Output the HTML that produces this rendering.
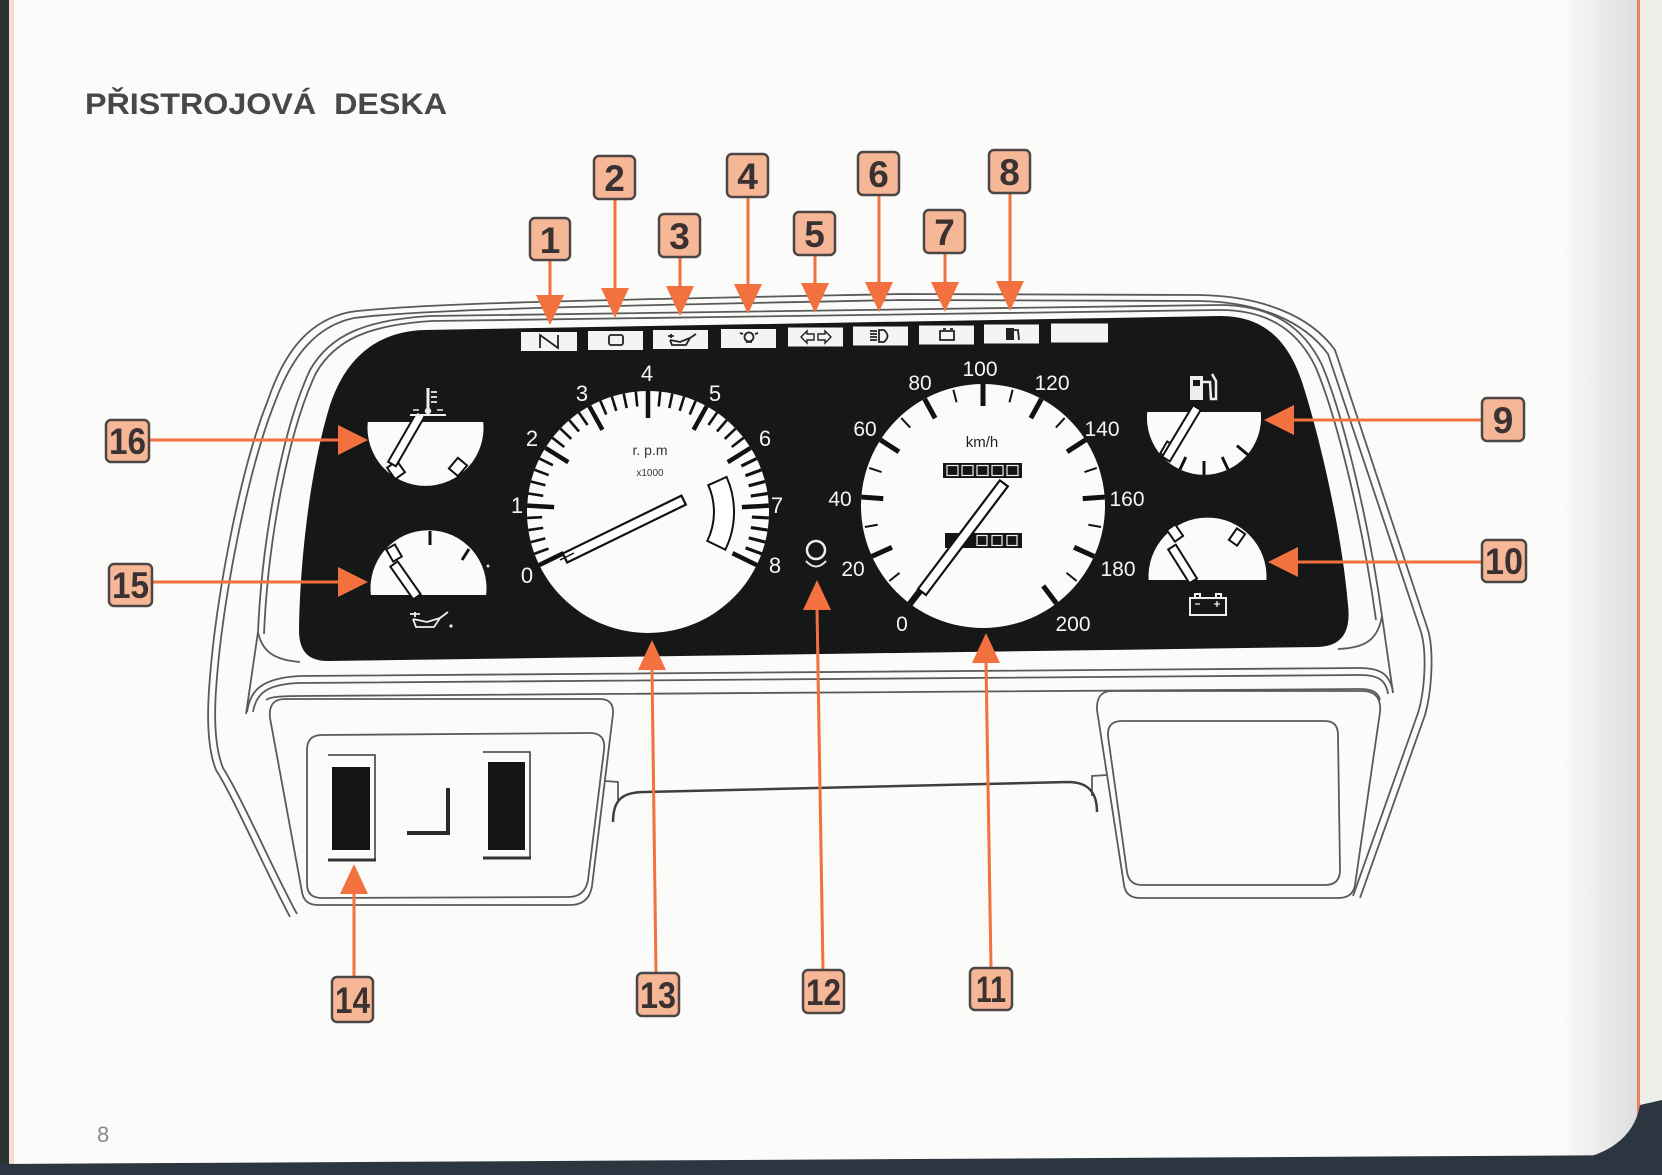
<!DOCTYPE html>
<html><head><meta charset="utf-8">
<style>
html,body{margin:0;padding:0;background:#fbfbf9;}
svg{display:block;}
</style></head><body>
<svg width="1662" height="1175" viewBox="0 0 1662 1175" xmlns="http://www.w3.org/2000/svg" font-family="'Liberation Sans', 'DejaVu Sans', sans-serif">
<defs>
<linearGradient id="shade" x1="0" x2="1" y1="0" y2="0">
<stop offset="0" stop-color="#fbfbf9"/>
<stop offset="1" stop-color="#dcdde0"/>
</linearGradient>
</defs>
<!-- page -->
<rect width="1662" height="1175" fill="#fbfbf9"/>
<rect x="1560" y="0" width="78" height="1175" fill="url(#shade)"/>
<rect x="1640" y="0" width="22" height="1175" fill="#ededea"/>
<line x1="1638.5" y1="0" x2="1638.5" y2="1140" stroke="#e9825f" stroke-width="3"/>
<rect x="0" y="0" width="9" height="1175" fill="#2b3232"/>
<rect x="9" y="0" width="5" height="1175" fill="#f3dccd"/>
<path d="M1662 1100 L1640 1105 Q1632 1150 1572 1161 L1662 1175 Z" fill="#2c3640"/>
<polygon points="0,1164 1662,1155 1662,1175 0,1175" fill="#2c3640"/>

<!-- title -->
<text x="85" y="114" font-size="30" font-weight="bold" fill="#48484c" textLength="362" lengthAdjust="spacingAndGlyphs">PŘISTROJOVÁ&#160; DESKA</text>
<text x="97" y="1142" font-size="22" fill="#8a8a8a">8</text>

<!-- bezel outlines -->
<g fill="none" stroke="#5a5a5a" stroke-width="1.8">
<path d="M290 917 C265 870,235 800,216 770 C208 750,207 720,209 690 C215 600,240 470,268 400 C285 350,310 320,350 312 C420 303,600 300,900 294 L1200 295 C1260 296,1310 315,1335 350 L1428 630 C1434 650,1432 690,1425 715 L1360 898"/>
<path d="M297 914 C272 868,243 800,223 768 C215 748,214 720,216 690 C222 602,247 472,275 402 C292 356,316 326,354 318 C424 309,600 306,900 300 L1200 301 C1257 302,1303 320,1328 354 L1421 632 C1427 652,1425 690,1418 713 L1353 896"/>
<path d="M258 632 C262 540,282 430,310 370 C330 335,365 320,430 316 L1220 305 C1275 305,1305 330,1322 365 C1345 420,1370 530,1382 616"/>
<path d="M264 634 C268 540,288 432,316 373 C335 340,368 325,432 321 L1220 310 C1272 310,1300 334,1316 368 C1339 423,1364 532,1376 620"/>
<!-- fins -->
<path d="M258 632 L246 714"/>
<path d="M258 632 C262 652,275 660,300 662"/>
<path d="M1382 616 L1393 693"/>
<path d="M1382 616 C1378 640,1365 648,1338 649"/>
<!-- band under panel -->
<path d="M247 712 C250 690,262 678,300 676 L1360 668 C1380 668,1390 674,1393 692"/>
<path d="M253 712 C256 694,266 684,300 683 L1360 675 C1378 675,1386 680,1388 694"/>
<path d="M266 700 C270 697,280 696,300 696 L1360 689 C1372 689,1378 692,1380 700"/>
<!-- left console -->
<path d="M285 699 L600 699 Q614 699 613 714 L592 886 Q589 905 570 905 L318 905 Q304 905 302 892 L270 718 Q268 699 285 699 Z"/>
<path d="M322 735 L590 733 Q606 733 604 750 L588 880 Q585 897 568 897 L322 898 Q307 898 307 884 L307 750 Q307 735 322 735 Z"/>
<!-- right console -->
<path d="M1112 691 L1362 691 Q1382 691 1380 712 L1355 885 Q1353 898 1338 898 L1140 898 Q1126 898 1124 885 L1097 710 Q1096 691 1112 691 Z"/>
<path d="M1122 721 L1325 721 Q1338 721 1338 735 L1340 870 Q1340 885 1325 885 L1142 885 Q1129 885 1127 872 L1108 736 Q1107 721 1122 721 Z"/>
<!-- tabs -->
<path d="M605 781 L618 782 L618 800"/>
<path d="M1107 775 L1092 776 L1092 796"/>
</g>
<!-- center line -->
<path d="M613 822 C613 800,622 792,645 792 L1068 782 C1088 782,1097 792,1097 812" fill="none" stroke="#3e3e3e" stroke-width="2.5"/>

<!-- switches -->
<g>
<path d="M328 755 L375 755 L375 860" fill="none" stroke="#555" stroke-width="1.8"/>
<line x1="328" y1="860" x2="376" y2="860" stroke="#333" stroke-width="3"/>
<rect x="332" y="767" width="38" height="83" fill="#151515"/>
<path d="M483 752 L530 752 L530 858" fill="none" stroke="#555" stroke-width="1.8"/>
<line x1="483" y1="858" x2="531" y2="858" stroke="#333" stroke-width="3"/>
<rect x="488" y="762" width="37" height="88" fill="#151515"/>
<path d="M448 788 L448 833 L407 833" fill="none" stroke="#2a2a2a" stroke-width="4"/>
</g>

<!-- black panel -->
<path d="M425 330 L1220 316 C1262 316,1288 338,1303 385 C1322 445,1342 535,1348 605 C1351 632,1342 646,1318 647 L328 661 C307 661,299 650,299 630 C300 560,310 470,330 405 C346 357,378 331,425 330 Z" fill="#161717"/>

<!-- warning light strip -->
<g fill="#f4f4f2">
<rect x="521" y="332" width="56" height="19"/>
<rect x="588" y="331" width="55" height="19"/>
<rect x="653" y="330" width="55" height="19"/>
<rect x="721" y="329" width="55" height="19"/>
<rect x="788" y="327.5" width="55" height="19"/>
<rect x="853" y="326.5" width="55" height="19"/>
<rect x="919" y="325.5" width="55" height="19"/>
<rect x="984" y="324.5" width="55" height="19"/>
<rect x="1051" y="323.5" width="57" height="19"/>
</g>
<g fill="none" stroke="#222" stroke-width="1.8">
<path d="M540 348 L540 335 L558 348 L558 335"/>
<rect x="609" y="335" width="14" height="10" rx="2"/>
<path d="M668 336 L674 336 M671 334 L671 338 M670 340 L680 342 L690 338 L696 334 M670 340 L672 345 L686 345 L690 338"/>
<circle cx="749" cy="337" r="4.5"/>
<path d="M746 342 L752 342 M740 333 L743 334 M758 333 L755 334"/>
<path d="M801 337 L807 331 L807 334 L814 334 L814 340 L807 340 L807 343 Z M831 337 L825 331 L825 334 L818 334 L818 340 L825 340 L825 343 Z" stroke-width="1.4"/>
<path d="M870 331 L877 331 M870 334 L877 334 M870 337 L877 337 M870 340 L877 340 M879 330 L884 330 Q891 336 884 342 L879 342 Z"/>
<path d="M940 331 L954 331 L954 340 L940 340 Z M943 329 L946 329 M950 329 L953 329"/>
<path d="M1014 330 L1018 330 L1019 340" />
</g>
<rect x="1006" y="328" width="8" height="12" fill="#222"/>

<!-- tachometer -->
<circle cx="648" cy="512" r="121" fill="#fbfbfa"/>
<g transform="translate(648 512)" stroke="#111">
<g stroke-width="2.6">
<line x1="0" y1="-121" x2="0" y2="-106" transform="rotate(-110.2)"/>
<line x1="0" y1="-121" x2="0" y2="-106" transform="rotate(-104.4)"/>
<line x1="0" y1="-121" x2="0" y2="-106" transform="rotate(-98.6)"/>
<line x1="0" y1="-121" x2="0" y2="-106" transform="rotate(-92.8)"/>
<line x1="0" y1="-121" x2="0" y2="-106" transform="rotate(-81.2)"/>
<line x1="0" y1="-121" x2="0" y2="-106" transform="rotate(-75.4)"/>
<line x1="0" y1="-121" x2="0" y2="-106" transform="rotate(-69.6)"/>
<line x1="0" y1="-121" x2="0" y2="-106" transform="rotate(-63.8)"/>
<line x1="0" y1="-121" x2="0" y2="-106" transform="rotate(-52.2)"/>
<line x1="0" y1="-121" x2="0" y2="-106" transform="rotate(-46.4)"/>
<line x1="0" y1="-121" x2="0" y2="-106" transform="rotate(-40.6)"/>
<line x1="0" y1="-121" x2="0" y2="-106" transform="rotate(-34.8)"/>
<line x1="0" y1="-121" x2="0" y2="-106" transform="rotate(-23.2)"/>
<line x1="0" y1="-121" x2="0" y2="-106" transform="rotate(-17.4)"/>
<line x1="0" y1="-121" x2="0" y2="-106" transform="rotate(-11.6)"/>
<line x1="0" y1="-121" x2="0" y2="-106" transform="rotate(-5.8)"/>
<line x1="0" y1="-121" x2="0" y2="-106" transform="rotate(5.8)"/>
<line x1="0" y1="-121" x2="0" y2="-106" transform="rotate(11.6)"/>
<line x1="0" y1="-121" x2="0" y2="-106" transform="rotate(17.4)"/>
<line x1="0" y1="-121" x2="0" y2="-106" transform="rotate(23.2)"/>
<line x1="0" y1="-121" x2="0" y2="-106" transform="rotate(34.8)"/>
<line x1="0" y1="-121" x2="0" y2="-106" transform="rotate(40.6)"/>
<line x1="0" y1="-121" x2="0" y2="-106" transform="rotate(46.4)"/>
<line x1="0" y1="-121" x2="0" y2="-106" transform="rotate(52.2)"/>
<line x1="0" y1="-121" x2="0" y2="-104" stroke-width="3.2" transform="rotate(63.8)"/>
<line x1="0" y1="-121" x2="0" y2="-104" stroke-width="3.2" transform="rotate(69.6)"/>
<line x1="0" y1="-121" x2="0" y2="-104" stroke-width="3.2" transform="rotate(75.4)"/>
<line x1="0" y1="-121" x2="0" y2="-104" stroke-width="3.2" transform="rotate(81.2)"/>
<line x1="0" y1="-121" x2="0" y2="-104" stroke-width="3.2" transform="rotate(92.8)"/>
<line x1="0" y1="-121" x2="0" y2="-104" stroke-width="3.2" transform="rotate(98.6)"/>
<line x1="0" y1="-121" x2="0" y2="-104" stroke-width="3.2" transform="rotate(104.4)"/>
<line x1="0" y1="-121" x2="0" y2="-104" stroke-width="3.2" transform="rotate(110.2)"/>
</g>
<g stroke-width="4.5">
<line x1="0" y1="-121" x2="0" y2="-94" transform="rotate(-116)"/>
<line x1="0" y1="-121" x2="0" y2="-94" transform="rotate(-87)"/>
<line x1="0" y1="-121" x2="0" y2="-94" transform="rotate(-58)"/>
<line x1="0" y1="-121" x2="0" y2="-94" transform="rotate(-29)"/>
<line x1="0" y1="-121" x2="0" y2="-94" transform="rotate(0)"/>
<line x1="0" y1="-121" x2="0" y2="-94" transform="rotate(29)"/>
<line x1="0" y1="-121" x2="0" y2="-94" transform="rotate(58)"/>
<line x1="0" y1="-121" x2="0" y2="-94" transform="rotate(87)"/>
<line x1="0" y1="-121" x2="0" y2="-94" transform="rotate(116)"/>
</g>
</g>
<path d="M708.3 485.2 L726.6 477 A86 86 0 0 1 725.3 549.7 L707.3 540.9 A66 66 0 0 0 708.3 485.2 Z" fill="#fff" stroke="#111" stroke-width="2"/>
<text x="650" y="455" font-size="14" fill="#333" text-anchor="middle">r. p.m</text>
<text x="650" y="476" font-size="10" fill="#333" text-anchor="middle">x1000</text>
<rect x="0" y="-5" width="132" height="10" fill="#fff" stroke="#111" stroke-width="2.2" transform="translate(565 558) rotate(-26)"/>
<line x1="560" y1="560" x2="574" y2="553" stroke="#111" stroke-width="1.5"/>
<g fill="#f4f4f4" font-size="22" text-anchor="middle">
<text x="527" y="583">0</text>
<text x="517" y="513">1</text>
<text x="532" y="446">2</text>
<text x="582" y="401">3</text>
<text x="647" y="381">4</text>
<text x="715" y="401">5</text>
<text x="765" y="446">6</text>
<text x="777" y="513">7</text>
<text x="775" y="573">8</text>
</g>

<!-- speedometer -->
<circle cx="983" cy="506" r="122" fill="#fbfbfa"/>
<g transform="translate(983 506)" stroke="#111">
<g stroke-width="2">
<line x1="0" y1="-120" x2="0" y2="-107" transform="rotate(-128.7)"/>
<line x1="0" y1="-120" x2="0" y2="-107" transform="rotate(-100.1)"/>
<line x1="0" y1="-120" x2="0" y2="-107" transform="rotate(-71.5)"/>
<line x1="0" y1="-120" x2="0" y2="-107" transform="rotate(-42.9)"/>
<line x1="0" y1="-120" x2="0" y2="-107" transform="rotate(-14.3)"/>
<line x1="0" y1="-120" x2="0" y2="-107" transform="rotate(14.3)"/>
<line x1="0" y1="-120" x2="0" y2="-107" transform="rotate(42.9)"/>
<line x1="0" y1="-120" x2="0" y2="-107" transform="rotate(71.5)"/>
<line x1="0" y1="-120" x2="0" y2="-107" transform="rotate(100.1)"/>
<line x1="0" y1="-120" x2="0" y2="-107" transform="rotate(128.7)"/>
</g>
<g stroke-width="5">
<line x1="0" y1="-122" x2="0" y2="-100" transform="rotate(-143)"/>
<line x1="0" y1="-122" x2="0" y2="-100" transform="rotate(-114.4)"/>
<line x1="0" y1="-122" x2="0" y2="-100" transform="rotate(-85.8)"/>
<line x1="0" y1="-122" x2="0" y2="-100" transform="rotate(-57.2)"/>
<line x1="0" y1="-122" x2="0" y2="-100" transform="rotate(-28.6)"/>
<line x1="0" y1="-122" x2="0" y2="-100" transform="rotate(0)"/>
<line x1="0" y1="-122" x2="0" y2="-100" transform="rotate(28.6)"/>
<line x1="0" y1="-122" x2="0" y2="-100" transform="rotate(57.2)"/>
<line x1="0" y1="-122" x2="0" y2="-100" transform="rotate(85.8)"/>
<line x1="0" y1="-122" x2="0" y2="-100" transform="rotate(114.4)"/>
<line x1="0" y1="-122" x2="0" y2="-100" transform="rotate(143)"/>
</g>
</g>
<text x="982" y="447" font-size="15" fill="#222" text-anchor="middle">km/h</text>
<rect x="943" y="463" width="79" height="15" fill="#141414"/>
<g fill="none" stroke="#eee" stroke-width="1.2">
<rect x="947" y="465.5" width="11" height="10"/>
<rect x="962" y="465.5" width="11" height="10"/>
<rect x="977" y="465.5" width="11" height="10"/>
<rect x="992" y="465.5" width="11" height="10"/>
<rect x="1007" y="465.5" width="11" height="10"/>
</g>
<rect x="945" y="533" width="77" height="15" fill="#141414"/>
<g fill="none" stroke="#eee" stroke-width="1.2">
<rect x="977" y="535.5" width="10" height="10"/>
<rect x="992" y="535.5" width="10" height="10"/>
<rect x="1007" y="535.5" width="10" height="10"/>
</g>
<line x1="922" y1="592" x2="911" y2="606" stroke="#111" stroke-width="2"/>
<rect x="0" y="-5" width="136" height="10" fill="#fff" stroke="#111" stroke-width="2.2" transform="translate(922 592) rotate(-53)"/>
<g fill="#f4f4f4" font-size="21" text-anchor="middle">
<text x="902" y="631">0</text>
<text x="853" y="576">20</text>
<text x="840" y="506">40</text>
<text x="865" y="436">60</text>
<text x="920" y="390">80</text>
<text x="980" y="376">100</text>
<text x="1052" y="390">120</text>
<text x="1102" y="436">140</text>
<text x="1127" y="506">160</text>
<text x="1118" y="576">180</text>
<text x="1073" y="631">200</text>
</g>

<!-- lamp 12 -->
<circle cx="816" cy="550" r="9" fill="none" stroke="#eee" stroke-width="2.5"/>
<path d="M806 561 Q816 572 826 561" fill="none" stroke="#eee" stroke-width="2"/>

<!-- temperature gauge -->
<path d="M367.8 422 L483.2 422 A58 58 0 1 1 367.8 422 Z" fill="#fbfbfa"/>
<rect x="-6" y="-7" width="12" height="14" fill="#fff" stroke="#111" stroke-width="2" transform="translate(458 467) rotate(40)"/>
<rect x="-6" y="-7" width="12" height="14" fill="#fff" stroke="#111" stroke-width="2" transform="translate(396 470) rotate(-35)"/>
<rect x="0" y="-4.5" width="58" height="9" fill="#fff" stroke="#111" stroke-width="2" transform="translate(392 464) rotate(-60)"/>
<g stroke="#eee" fill="none">
<line x1="428" y1="388" x2="428" y2="409" stroke-width="3"/>
<path d="M431 392 L437 392 M431 397 L437 397 M431 402 L437 402" stroke-width="1.8"/>
<line x1="410" y1="415" x2="446" y2="415" stroke-width="2"/>
<path d="M413 410 L419 410 M437 410 L443 410" stroke-width="1.6"/>
</g>
<circle cx="428" cy="411" r="3.2" fill="#eee"/>

<!-- oil gauge -->
<path d="M370.9 595 A58 58 0 1 1 486.1 595 Z" fill="#fbfbfa"/>
<line x1="430" y1="531" x2="430" y2="545" stroke="#111" stroke-width="3"/>
<line x1="469" y1="549" x2="462" y2="560" stroke="#111" stroke-width="3"/>
<circle cx="488" cy="566" r="1.5" fill="#ddd"/>
<rect x="-5" y="-7" width="10" height="14" fill="#fff" stroke="#111" stroke-width="2" transform="translate(394 553) rotate(-30)"/>
<rect x="0" y="-4.5" width="40" height="9" fill="#fff" stroke="#111" stroke-width="2" transform="translate(394 564) rotate(55)"/>
<path d="M410 614 L420 614 M415 612 L415 617 M413 619 L427 622 L440 618 L448 612 M413 619 L416 627 L434 627 L440 618" fill="none" stroke="#eee" stroke-width="1.8"/>
<circle cx="451" cy="626" r="1.6" fill="#eee"/>

<!-- fuel gauge -->
<path d="M1147.3 412 L1260.7 412 A57 57 0 1 1 1147.3 412 Z" fill="#fbfbfa"/>
<g transform="translate(1204 418)" stroke="#111" stroke-width="3">
<line x1="0" y1="43" x2="0" y2="57" transform="rotate(25)"/>
<line x1="0" y1="43" x2="0" y2="57"/>
<line x1="0" y1="43" x2="0" y2="57" transform="rotate(-25)"/>
<line x1="0" y1="43" x2="0" y2="57" transform="rotate(-50)"/>
</g>
<rect x="-5" y="-7" width="10" height="14" fill="#fff" stroke="#111" stroke-width="2" transform="translate(1168 450) rotate(30)"/>
<rect x="0" y="-4.5" width="60" height="9" fill="#fff" stroke="#111" stroke-width="2" transform="translate(1166 459) rotate(-59)"/>
<rect x="1190" y="376" width="13" height="24" fill="#eee"/>
<rect x="1193" y="380" width="7" height="6" fill="#161717"/>
<path d="M1203 382 L1210 382 L1211 399 L1216 399 L1216 381 L1212 374" fill="none" stroke="#eee" stroke-width="2.5"/>

<!-- battery gauge -->
<path d="M1148.6 580 A59 59 0 1 1 1266.4 580 Z" fill="#fbfbfa"/>
<rect x="-5" y="-7" width="10" height="14" fill="#fff" stroke="#111" stroke-width="2" transform="translate(1175 533) rotate(-35)"/>
<rect x="-5" y="-7" width="10" height="14" fill="#fff" stroke="#111" stroke-width="2" transform="translate(1237 537) rotate(35)"/>
<rect x="0" y="-4.5" width="40" height="9" fill="#fff" stroke="#111" stroke-width="2" transform="translate(1172 547) rotate(58)"/>
<g fill="none" stroke="#eee" stroke-width="2">
<rect x="1190" y="598" width="36" height="17"/>
<rect x="1195" y="594" width="5" height="4"/>
<rect x="1216" y="594" width="5" height="4"/>
<path d="M1195 604 L1200 604 M1214 604 L1220 604 M1217 601 L1217 607" stroke-width="1.3"/>
</g>

<!-- arrows -->
<g stroke="#f2713f" stroke-width="3" fill="none">
<line x1="550" y1="260" x2="550" y2="296"/>
<line x1="615" y1="199" x2="615" y2="290"/>
<line x1="680" y1="257" x2="680" y2="288"/>
<line x1="748" y1="197" x2="748" y2="286"/>
<line x1="815" y1="255" x2="815" y2="285"/>
<line x1="879" y1="195" x2="879" y2="284"/>
<line x1="945" y1="253" x2="945" y2="284"/>
<line x1="1010" y1="193" x2="1010" y2="283"/>
<line x1="149" y1="440" x2="340" y2="440"/>
<line x1="152" y1="582" x2="340" y2="582"/>
<line x1="1482" y1="420" x2="1292" y2="420"/>
<line x1="1482" y1="562" x2="1296" y2="562"/>
<line x1="354" y1="977" x2="354" y2="892"/>
<line x1="656" y1="973" x2="652" y2="668"/>
<line x1="823" y1="970" x2="817" y2="608"/>
<line x1="991" y1="968" x2="986" y2="661"/>
</g>
<g fill="#f2713f">
<polygon points="536,295 564,295 550,325"/>
<polygon points="601,288 629,288 615,318"/>
<polygon points="666,286 694,286 680,316"/>
<polygon points="734,284 762,284 748,314"/>
<polygon points="801,283 829,283 815,313"/>
<polygon points="865,282 893,282 879,312"/>
<polygon points="931,282 959,282 945,312"/>
<polygon points="996,281 1024,281 1010,311"/>
<polygon points="338,425 338,455 368,440"/>
<polygon points="338,567 338,597 368,582"/>
<polygon points="1294,405 1294,435 1264,420"/>
<polygon points="1298,547 1298,577 1268,562"/>
<polygon points="340,894 368,894 354,864"/>
<polygon points="638,670 666,670 652,640"/>
<polygon points="803,610 831,610 817,580"/>
<polygon points="972,663 1000,663 986,633"/>
</g>

<!-- number boxes -->
<g fill="#f6b797" stroke="#4d4646" stroke-width="2.5">
<rect x="530" y="218" width="40" height="42" rx="5"/>
<rect x="594" y="156" width="41" height="43" rx="5"/>
<rect x="659" y="214" width="41" height="43" rx="5"/>
<rect x="727" y="154" width="41" height="43" rx="5"/>
<rect x="794" y="212" width="41" height="43" rx="5"/>
<rect x="858" y="152" width="41" height="43" rx="5"/>
<rect x="924" y="210" width="41" height="43" rx="5"/>
<rect x="989" y="150" width="41" height="43" rx="5"/>
<rect x="1482" y="398" width="42" height="43" rx="5"/>
<rect x="1482" y="540" width="44" height="42" rx="5"/>
<rect x="106" y="420" width="43" height="42" rx="5"/>
<rect x="109" y="564" width="43" height="42" rx="5"/>
<rect x="332" y="977" width="41" height="45" rx="5"/>
<rect x="637" y="973" width="42" height="43" rx="5"/>
<rect x="803" y="970" width="41" height="43" rx="5"/>
<rect x="970" y="968" width="42" height="42" rx="5"/>
</g>
<g fill="#3a3232" font-size="37" font-weight="bold" text-anchor="middle">
<text x="550" y="253">1</text>
<text x="614.5" y="191">2</text>
<text x="679.5" y="249">3</text>
<text x="747.5" y="189">4</text>
<text x="814.5" y="247">5</text>
<text x="878.5" y="187">6</text>
<text x="944.5" y="245">7</text>
<text x="1009.5" y="185">8</text>
<text x="1503" y="433">9</text>
<text x="1504" y="574" textLength="38" lengthAdjust="spacingAndGlyphs">10</text>
<text x="127.5" y="454" textLength="37" lengthAdjust="spacingAndGlyphs">16</text>
<text x="130.5" y="598" textLength="37" lengthAdjust="spacingAndGlyphs">15</text>
<text x="352.5" y="1013" textLength="35" lengthAdjust="spacingAndGlyphs">14</text>
<text x="658" y="1008" textLength="36" lengthAdjust="spacingAndGlyphs">13</text>
<text x="823.5" y="1005" textLength="35" lengthAdjust="spacingAndGlyphs">12</text>
<text x="991" y="1002" textLength="30" lengthAdjust="spacingAndGlyphs">11</text>
</g>
</svg>
</body></html>
